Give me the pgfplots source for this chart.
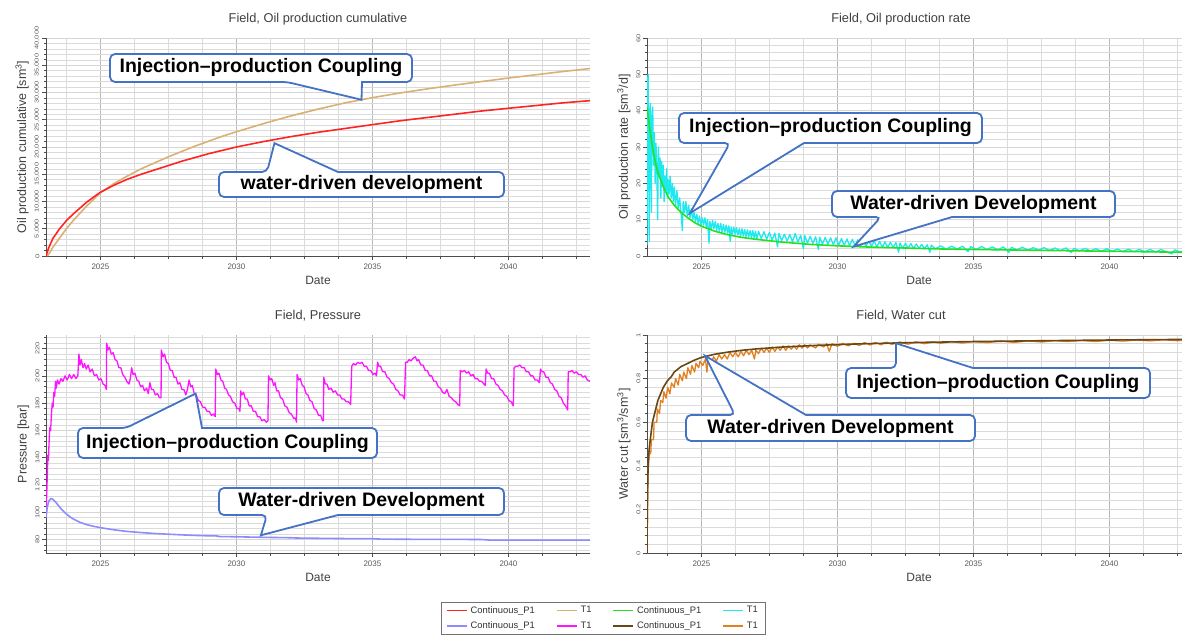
\documentclass[border=0pt]{standalone}
\usepackage{fontspec}
\setmainfont{Liberation Sans}
\usepackage{pgfplots}
\pgfplotsset{compat=1.18}

\definecolor{cRed}{RGB}{255,36,36}
\definecolor{cTan}{RGB}{218,176,116}
\definecolor{cGreen}{RGB}{34,226,34}
\definecolor{cCyan}{RGB}{30,232,240}
\definecolor{cLav}{RGB}{140,140,255}
\definecolor{cMag}{RGB}{255,20,255}
\definecolor{cBrown}{RGB}{104,72,22}
\definecolor{cOrange}{RGB}{226,128,32}
\definecolor{cBlue}{RGB}{68,114,196}

\pgfplotsset{
  fieldaxis/.style={
    scale only axis, width=544pt, height=218pt,
    xmin=2023, xmax=2043,
    axis x line*=bottom, axis y line*=left,
    axis line style={black!70, line width=0.8pt},
    xtick={2025,2030,2035,2040},
    minor xtick={2023.75,2026.25,2027.5,2028.75,2031.25,2032.5,2033.75,2036.25,2037.5,2038.75,2041.25,2042.5},
    grid=both,
    major x grid style={draw=black!28, line width=0.7pt},
    minor x grid style={draw=black!14, line width=0.6pt},
    major y grid style={draw=black!16, line width=0.6pt},
    minor y grid style={draw=black!14, line width=0.5pt},
    tick align=outside,
    major tick length=4pt, minor tick length=2.5pt,
    every tick/.style={black!70, line width=0.6pt},
    /pgf/number format/assume math mode=true,
    x tick label style={font=\fontsize{8}{9}\selectfont, text=black!65, /pgf/number format/1000 sep={}},
    y tick label style={font=\fontsize{7.5}{8}\selectfont, text=black!65, rotate=90, yscale=0.75, anchor=south},
    xlabel={Date},
    xlabel style={font=\fontsize{12}{14}\selectfont, text=black!75},
    ylabel style={font=\fontsize{12.5}{14}\selectfont, text=black!75},
    title style={font=\fontsize{12.8}{15}\selectfont, text=black!75, at={(0.5,1)}, anchor=center, yshift=13pt},
    every axis plot/.append style={line width=1.6pt, no markers, line join=round},
  },
}
\tikzset{
  co/.style={draw=cBlue, line width=1.8pt, fill=white, line join=miter},
  cotext/.style={font=\bfseries\fontsize{19.5}{22}\selectfont, text=black},
}

\begin{document}
\begin{tikzpicture}
\path[use as bounding box] (0pt,0pt) rectangle (1182pt,-636pt);

% ---------------- cumulative oil ----------------
\begin{axis}[fieldaxis, at={(46pt,-256pt)}, anchor=south west,
  title={Field, Oil production cumulative},
  ylabel={Oil production cumulative [sm\textsuperscript{3}]},
  ymin=0, ymax=40000, ytick={0,5000,...,40000}, minor y tick num=4,
  scaled y ticks=false,
  y tick label style={/pgf/number format/1000 sep={,}}]
\addplot[cTan] coordinates {
(2023.05,0) (2023.15,700) (2023.25,1600) (2023.5,3300) (2023.75,5000) (2024.0,6500)
(2024.5,9200) (2025.0,11600) (2025.5,13300) (2026.0,14700) (2026.5,16000) (2027.0,17100)
(2027.5,18200) (2028.0,19200) (2028.5,20200) (2029.0,21100) (2029.5,22000) (2030.0,22800)
(2031.0,24300) (2032.0,25700) (2033.0,26950) (2034.0,28100) (2035.0,29050) (2036.0,29900)
(2037.0,30650) (2038.0,31350) (2039.0,32000) (2040.0,32650) (2041.0,33250) (2042.0,33850) (2043.0,34400)};
\addplot[cRed] coordinates {
(2023.0,0) (2023.1,1500) (2023.25,3200) (2023.5,5000) (2023.75,6500) (2024.0,7700)
(2024.5,9900) (2025.0,11700) (2025.5,13000) (2026.0,14100) (2026.5,15000) (2027.0,15800)
(2027.5,16600) (2028.0,17400) (2028.5,18100) (2029.0,18800) (2029.5,19400) (2030.0,20000)
(2031.0,21000) (2032.0,21900) (2033.0,22700) (2034.0,23400) (2035.0,24100) (2036.0,24800)
(2037.0,25400) (2038.0,26000) (2039.0,26600) (2040.0,27100) (2041.0,27600) (2042.0,28100) (2043.0,28500)};
\coordinate (tA) at (axis cs:2034.6,28670);
\coordinate (tB) at (axis cs:2031.4,20700);
\end{axis}

% ---------------- oil rate ----------------
\begin{axis}[fieldaxis, at={(647pt,-256pt)}, anchor=south west,
  title={Field, Oil production rate}, title style={xshift=-18pt},
  ylabel={Oil production rate [sm\textsuperscript{3}/d]},
  ymin=0, ymax=60, ytick={0,10,...,60}, minor y tick num=4]
\addplot[cCyan, line width=1.3pt] coordinates {
(2023.00,3) (2023.02,48) (2023.04,50) (2023.06,30) (2023.08,4) (2023.10,40) (2023.12,42)
(2023.14,28) (2023.16,12) (2023.18,38) (2023.21,41) (2023.24,25) (2023.27,34) (2023.30,20)
(2023.33,31) (2023.36,24) (2023.39,10) (2023.42,30) (2023.45,22) (2023.48,27) (2023.51,16)
(2023.54,26) (2023.57,20) (2023.60,25) (2023.63,15) (2023.66,22) (2023.69,18) (2023.72,24)
(2023.75,16) (2023.78,21) (2023.81,17) (2023.85,22) (2023.89,16) (2023.93,20) (2023.97,15)
(2024.00,19) (2024.05,14) (2024.10,18) (2024.15,13) (2024.20,16) (2024.25,12) (2024.30,7)
(2024.33,15) (2024.38,12) (2024.43,15) (2024.48,11) (2024.53,14) (2024.58,10.5) (2024.63,13)
(2024.68,10) (2024.73,12) (2024.78,9.5) (2024.83,11.5) (2024.88,9) (2024.93,11) (2024.98,8.5)
(2025.03,10.5) (2025.08,8.5) (2025.13,10.5) (2025.18,8) (2025.23,10) (2025.28,3.5) (2025.31,9.5)
(2025.36,7.5) (2025.41,9.8) (2025.46,7.5) (2025.51,9.5) (2025.56,7) (2025.61,9) (2025.66,6.8)
(2025.71,9) (2025.76,6.5) (2025.81,8.7) (2025.86,6.5) (2025.91,8.5) (2025.96,6.3) (2026.01,8.3)
(2026.06,4) (2026.09,8) (2026.14,6) (2026.19,8) (2026.24,6) (2026.29,7.8) (2026.34,5.8)
(2026.39,7.5) (2026.44,5.5) (2026.49,7.5) (2026.54,5.5) (2026.59,7.3) (2026.64,5.3) (2026.69,7.2)
(2026.74,5.2) (2026.79,7) (2026.84,5) (2026.89,7) (2026.94,5) (2026.99,6.8) (2027.04,4.5)
(2027.1,6.8) (2027.2,4.8) (2027.3,6.7) (2027.4,4.6) (2027.5,6.5) (2027.6,4.4) (2027.7,6.3)
(2027.8,2.5) (2027.85,6.2) (2027.95,4.2) (2028.05,6.0) (2028.15,4.1) (2028.25,5.9) (2028.35,3.9)
(2028.45,6.2) (2028.55,3.8) (2028.65,5.7) (2028.75,2.0) (2028.8,5.6) (2028.9,3.6) (2029.0,5.4)
(2029.1,3.5) (2029.2,5.3) (2029.3,1.8) (2029.35,5.2) (2029.45,3.3) (2029.55,5.1) (2029.65,3.2)
(2029.75,5.0) (2029.85,3.1) (2029.95,5.0) (2030.05,3.0) (2030.15,4.8) (2030.25,2.9) (2030.35,4.7)
(2030.45,2.8) (2030.55,4.6) (2030.65,2.8) (2030.75,4.5) (2030.85,2.7) (2030.95,4.4) (2031.05,2.6)
(2031.15,4.3) (2031.25,2.6) (2031.35,4.1) (2031.45,2.5) (2031.55,4.0) (2031.65,2.4) (2031.75,3.9)
(2031.85,2.4) (2031.95,3.8) (2032.05,2.3) (2032.15,3.7) (2032.25,1.0) (2032.3,3.6) (2032.4,2.2)
(2032.5,3.5) (2032.6,2.2) (2032.7,3.4) (2032.8,2.1) (2032.9,3.3) (2033.0,2.1) (2033.1,3.2)
(2033.2,2.0) (2033.3,3.1) (2033.4,1.0) (2033.45,3.0) (2033.6,2.0) (2033.8,2.8) (2034.0,1.9)
(2034.2,2.7) (2034.4,1.9) (2034.6,2.7) (2034.8,1.2) (2034.9,2.6) (2035.1,1.8) (2035.3,2.6)
(2035.5,1.8) (2035.7,2.5) (2035.9,1.7) (2036.1,2.5) (2036.3,1.0) (2036.4,2.4) (2036.6,1.7)
(2036.8,2.4) (2037.0,1.6) (2037.2,2.3) (2037.4,1.6) (2037.6,2.3) (2037.8,1.5) (2038.0,2.2)
(2038.2,1.5) (2038.4,2.2) (2038.6,1.0) (2038.7,2.1) (2038.9,1.4) (2039.1,2.1) (2039.3,1.4)
(2039.5,2.0) (2039.7,1.3) (2039.9,2.0) (2040.1,1.3) (2040.3,1.9) (2040.5,1.2) (2040.7,1.9)
(2040.9,1.2) (2041.1,1.8) (2041.3,1.2) (2041.5,1.8) (2041.7,1.1) (2041.9,1.8) (2042.1,1.1)
(2042.3,0.6) (2042.4,1.7) (2042.6,1.1) (2042.8,1.7) (2043.0,1.0)};
\addplot[cGreen] coordinates {
(2023.0,41) (2023.1,35) (2023.2,30) (2023.3,26) (2023.4,23) (2023.5,21) (2023.6,19)
(2023.7,17.5) (2023.8,16) (2023.9,15) (2024.0,14) (2024.25,12) (2024.5,10.5) (2024.75,9.2)
(2025.0,8.2) (2025.5,6.8) (2026.0,5.8) (2026.5,5.1) (2027.0,4.6) (2027.5,4.2) (2028.0,3.8)
(2028.5,3.5) (2029.0,3.2) (2029.5,3.0) (2030.0,2.8) (2031.0,2.5) (2032.0,2.3) (2033.0,2.1)
(2034.0,1.9) (2035.0,1.8) (2036.0,1.7) (2037.0,1.6) (2038.0,1.5) (2039.0,1.4) (2040.0,1.3)
(2041.0,1.2) (2042.0,1.1) (2043.0,1.0)};
\coordinate (tC) at (axis cs:2024.58,11.8);
\coordinate (tD) at (axis cs:2030.6,2.6);
\end{axis}

% ---------------- pressure ----------------
\begin{axis}[fieldaxis, at={(46pt,-553pt)}, anchor=south west,
  title={Field, Pressure},
  ylabel={Pressure [bar]},
  ymin=70, ymax=230, ytick={80,100,...,220},
  minor ytick={72,76,...,228}]
\addplot[cMag, line width=1.3pt] coordinates {
(2023.00,98) (2023.03,115) (2023.05,128) (2023.07,142) (2023.09,138) (2023.11,150) (2023.14,162)
(2023.17,160) (2023.20,172) (2023.23,180) (2023.26,177) (2023.29,188) (2023.32,185) (2023.35,196)
(2023.38,191) (2023.42,197) (2023.48,194) (2023.55,198) (2023.62,196) (2023.70,200) (2023.78,197)
(2023.86,201) (2023.94,198) (2024.02,201) (2024.10,198) (2024.17,200)
(2024.21,216) (2024.25,208) (2024.30,212) (2024.36,206) (2024.42,209) (2024.48,205) (2024.55,208)
(2024.62,203) (2024.70,205) (2024.78,200) (2024.86,201) (2024.94,197) (2025.02,198) (2025.10,194)
(2025.17,193) (2025.22,190)
(2025.23,224) (2025.28,219) (2025.33,221) (2025.40,216) (2025.47,217) (2025.54,212) (2025.61,211)
(2025.68,206) (2025.75,206) (2025.82,201) (2025.90,199) (2025.97,196) (2026.05,194) (2026.10,198)
(2026.15,206) (2026.20,201) (2026.27,202) (2026.34,197) (2026.41,196) (2026.48,192) (2026.55,193)
(2026.62,189) (2026.70,191) (2026.76,187) (2026.82,195) (2026.88,190) (2026.95,190) (2027.02,186)
(2027.10,187) (2027.17,184) (2027.23,184)
(2027.24,219) (2027.30,214) (2027.36,216) (2027.43,210) (2027.50,209) (2027.57,204) (2027.64,204)
(2027.71,199) (2027.78,199) (2027.85,194) (2027.92,195) (2028.00,190) (2028.07,190) (2028.14,186)
(2028.20,190) (2028.26,197) (2028.32,192) (2028.38,193) (2028.45,187) (2028.52,186) (2028.60,182)
(2028.68,181) (2028.76,177) (2028.84,177) (2028.92,174) (2029.00,174) (2029.08,171) (2029.16,172)
(2029.22,170)
(2029.24,205) (2029.30,201) (2029.36,202) (2029.43,197) (2029.50,196) (2029.57,191) (2029.64,190)
(2029.71,186) (2029.78,185) (2029.86,181) (2029.94,180) (2030.02,176) (2030.09,176) (2030.13,174)
(2030.16,189) (2030.20,186) (2030.26,188) (2030.33,183) (2030.40,183) (2030.47,178) (2030.55,178)
(2030.62,174) (2030.70,174) (2030.78,170) (2030.86,170) (2030.94,167) (2031.02,168) (2031.10,166)
(2031.16,167)
(2031.18,200) (2031.24,197) (2031.30,198) (2031.37,193) (2031.42,195) (2031.48,189) (2031.55,189)
(2031.62,184) (2031.70,183) (2031.78,178) (2031.86,177) (2031.94,173) (2032.02,172) (2032.10,169)
(2032.17,169) (2032.21,166)
(2032.23,201) (2032.29,197) (2032.35,198) (2032.42,193) (2032.49,192) (2032.56,187) (2032.63,186)
(2032.70,182) (2032.78,181) (2032.86,176) (2032.94,175) (2033.02,171) (2033.10,171) (2033.17,167)
(2033.20,167)
(2033.21,199) (2033.27,194) (2033.33,194) (2033.40,190) (2033.48,191) (2033.56,188) (2033.64,189)
(2033.72,186) (2033.80,186) (2033.88,183) (2033.96,183) (2034.04,181) (2034.12,181) (2034.20,179)
(2034.24,207) (2034.30,209) (2034.38,208) (2034.46,210) (2034.54,209) (2034.62,210) (2034.70,207)
(2034.78,207) (2034.86,204) (2034.94,204) (2035.02,201) (2035.10,202) (2035.15,200) (2035.19,210)
(2035.24,207) (2035.30,207) (2035.38,203) (2035.46,203) (2035.54,199) (2035.62,198) (2035.70,195)
(2035.78,194) (2035.86,190) (2035.94,189) (2036.02,186) (2036.10,186) (2036.18,183)
(2036.22,210) (2036.28,210) (2036.35,212) (2036.42,211) (2036.50,213) (2036.58,214) (2036.64,211)
(2036.70,212) (2036.78,208) (2036.86,208) (2036.94,204) (2037.02,204) (2037.10,200) (2037.18,200)
(2037.26,196) (2037.34,196) (2037.42,192) (2037.50,191) (2037.58,188) (2037.66,187) (2037.74,190)
(2037.82,185) (2037.90,184) (2037.98,182) (2038.06,181) (2038.14,179) (2038.21,178)
(2038.23,204) (2038.30,203) (2038.38,204) (2038.46,202) (2038.54,203) (2038.62,200) (2038.70,201)
(2038.78,198) (2038.86,198) (2038.94,196) (2039.02,196) (2039.10,194) (2039.15,193) (2039.18,205)
(2039.24,202) (2039.30,202) (2039.38,198) (2039.46,198) (2039.54,194) (2039.62,193) (2039.70,190)
(2039.78,189) (2039.86,186) (2039.94,185) (2040.02,182) (2040.10,181) (2040.18,178)
(2040.21,206) (2040.27,207) (2040.34,207) (2040.42,208) (2040.50,206) (2040.58,206) (2040.66,203)
(2040.74,203) (2040.82,200) (2040.90,200) (2040.98,197) (2041.06,197) (2041.14,195) (2041.18,205)
(2041.24,203) (2041.30,203) (2041.38,199) (2041.46,199) (2041.54,195) (2041.62,194) (2041.70,190)
(2041.78,189) (2041.86,185) (2041.94,184) (2042.02,180) (2042.10,178) (2042.18,175)
(2042.20,203) (2042.27,203) (2042.34,204) (2042.42,202) (2042.50,203) (2042.58,201) (2042.66,201)
(2042.74,199) (2042.82,200) (2042.90,197) (2043.00,196)};
\addplot[cLav] coordinates {
(2023.00,96) (2023.05,104) (2023.10,108) (2023.18,110) (2023.25,109.5) (2023.35,107.5) (2023.45,105)
(2023.55,102.5) (2023.70,99.5) (2023.85,97) (2024.0,95) (2024.25,92.5) (2024.5,90.8) (2024.75,89.6)
(2025.0,88.6) (2025.5,87) (2026.0,85.8) (2026.5,85) (2027.0,84.3) (2027.5,83.8) (2028.0,83.3)
(2028.5,82.9) (2029.0,82.6) (2029.3,82.5) (2029.35,82.1) (2030.0,81.9) (2031.0,81.5) (2032.0,81.2)
(2032.2,81.0) (2033.0,80.8) (2034.0,80.6) (2035.0,80.5) (2035.3,80.2) (2036.0,80.1) (2037.0,80.0)
(2038.0,80.0) (2039.0,79.9) (2039.3,79.5) (2040.0,79.4) (2041.0,79.4) (2042.0,79.4) (2043.0,79.4)};
\coordinate (tE) at (axis cs:2028.5,187);
\coordinate (tF) at (axis cs:2030.9,83);
\end{axis}

% ---------------- water cut ----------------
\begin{axis}[fieldaxis, at={(647pt,-553pt)}, anchor=south west,
  title={Field, Water cut}, title style={xshift=-18pt},
  ylabel={Water cut [sm\textsuperscript{3}/sm\textsuperscript{3}]},
  ymin=0, ymax=1, ytick={0,0.2,...,1}, minor y tick num=4,
  y tick label style={/pgf/number format/fixed}]
\addplot[cOrange, line width=1.3pt] coordinates {
(2023.00,0) (2023.02,0.2) (2023.04,0.38) (2023.08,0.45) (2023.14,0.46) (2023.16,0.52) (2023.24,0.52)
(2023.26,0.6) (2023.36,0.6) (2023.38,0.66) (2023.46,0.64) (2023.5,0.7) (2023.58,0.69) (2023.62,0.74)
(2023.7,0.71) (2023.76,0.76) (2023.84,0.73) (2023.9,0.78) (2024.0,0.76) (2024.05,0.8) (2024.15,0.77)
(2024.2,0.82) (2024.3,0.79) (2024.35,0.83) (2024.45,0.8) (2024.5,0.85) (2024.6,0.82) (2024.65,0.86)
(2024.75,0.83) (2024.8,0.87) (2024.9,0.85) (2024.95,0.88) (2025.05,0.86) (2025.15,0.89) (2025.2,0.83)
(2025.25,0.89) (2025.35,0.87) (2025.45,0.9) (2025.55,0.88) (2025.65,0.91) (2025.75,0.89) (2025.85,0.91)
(2025.95,0.89) (2026.05,0.92) (2026.15,0.9) (2026.25,0.92) (2026.35,0.9) (2026.45,0.925) (2026.55,0.905)
(2026.65,0.93) (2026.75,0.91) (2026.85,0.93) (2026.95,0.89) (2027.0,0.93) (2027.1,0.915) (2027.2,0.94)
(2027.3,0.92) (2027.4,0.94) (2027.5,0.92) (2027.6,0.945) (2027.7,0.925) (2027.8,0.945) (2027.9,0.93)
(2028.0,0.95) (2028.1,0.93) (2028.2,0.95) (2028.3,0.935) (2028.4,0.95) (2028.5,0.935) (2028.6,0.955)
(2028.7,0.94) (2028.8,0.955) (2028.9,0.94) (2029.0,0.955) (2029.2,0.94) (2029.3,0.958) (2029.5,0.945)
(2029.6,0.96) (2029.7,0.925) (2029.8,0.96) (2030.0,0.948) (2030.2,0.962) (2030.4,0.95) (2030.6,0.962)
(2030.8,0.952) (2031.0,0.965) (2031.2,0.954) (2031.4,0.966) (2031.6,0.955) (2031.8,0.967) (2032.0,0.957)
(2032.3,0.968) (2032.6,0.958) (2032.9,0.968) (2033.2,0.96) (2033.5,0.968) (2033.8,0.962) (2034.2,0.97)
(2034.6,0.963) (2035.0,0.97) (2035.5,0.965) (2036.0,0.972) (2036.5,0.966) (2037.0,0.973) (2037.5,0.968)
(2038.0,0.974) (2038.5,0.97) (2039.0,0.975) (2039.5,0.97) (2040.0,0.976) (2040.5,0.972) (2041.0,0.977)
(2041.5,0.973) (2042.0,0.978) (2042.5,0.974) (2043.0,0.978)};
\addplot[cBrown] coordinates {
(2023.00,0) (2023.01,0.2) (2023.03,0.35) (2023.06,0.45) (2023.1,0.5) (2023.15,0.55) (2023.2,0.6)
(2023.3,0.65) (2023.4,0.7) (2023.5,0.73) (2023.6,0.76) (2023.75,0.79) (2023.9,0.81) (2024.0,0.83)
(2024.25,0.855) (2024.5,0.87) (2024.75,0.885) (2025.0,0.897) (2025.5,0.912) (2026.0,0.922)
(2026.5,0.93) (2027.0,0.936) (2028.0,0.945) (2029.0,0.951) (2030.0,0.956) (2031.0,0.96)
(2032.0,0.963) (2033.0,0.966) (2035.0,0.97) (2037.0,0.973) (2040.0,0.977) (2043.0,0.98)};
\coordinate (tG) at (axis cs:2032.15,0.962);
\coordinate (tH) at (axis cs:2025.13,0.905);
\end{axis}

% ---------------- legend ----------------
% matrix columns are numbered from 1: odd columns hold the line samples, even ones the names
\begin{axis}[hide axis, scale only axis, width=10pt, height=10pt,
  xmin=0, xmax=1, ymin=0, ymax=1,
  at={(603pt,-602pt)}, anchor=north,
  legend columns=4, legend cell align=left,
  legend style={at={(0.5,1)}, anchor=north, draw=black!55, line width=0.6pt,
    font=\fontsize{9.4}{11}\selectfont, text=black!80,
    inner xsep=5pt, inner ysep=2pt, row sep=3pt,
    /tikz/every odd column/.append style={column sep=1pt},
    /tikz/every even column/.append style={column sep=19pt}},
  legend image code/.code={\draw[#1, line width=1.6pt] (0pt,0pt) -- (20pt,0pt);}]
\addlegendimage{cRed}\addlegendentry{Continuous\_P1}
\addlegendimage{cTan}\addlegendentry{T1}
\addlegendimage{cGreen}\addlegendentry{Continuous\_P1}
\addlegendimage{cCyan}\addlegendentry{T1}
\addlegendimage{cLav}\addlegendentry{Continuous\_P1}
\addlegendimage{cMag}\addlegendentry{T1}
\addlegendimage{cBrown}\addlegendentry{Continuous\_P1}
\addlegendimage{cOrange}\addlegendentry{T1}
\end{axis}

% ---------------- callouts ----------------
\begin{scope}[x=1pt, y=-1pt]
% cumulative: coupling (wedge below the box)
\draw[co] (tA) -- (362,82) [rounded corners=5pt] -- (412,82) -- (412,54) -- (110,54) -- (110,82) -- (287,82) [sharp corners] -- cycle;
\node[cotext] at (261,68) {Injection--production Coupling};
% cumulative: water-driven (wedge above the box)
\draw[co] (tB) -- (338,172) [rounded corners=5pt] -- (504,172) -- (504,197) -- (219,197) -- (219,172) -- (267,172) [sharp corners] -- cycle;
\node[cotext] at (361.5,184.5) {water-driven development};
% rate: coupling
\draw[co] (tC) -- (804,143) [rounded corners=5pt] -- (982,143) -- (982,113) -- (679,113) -- (679,143) -- (730,143) [sharp corners] -- cycle;
\node[cotext] at (830.5,128) {Injection--production Coupling};
% rate: water-driven
\draw[co] (tD) -- (952,217) [rounded corners=5pt] -- (1115,217) -- (1115,191) -- (832,191) -- (832,217) -- (881,217) [sharp corners] -- cycle;
\node[cotext] at (973.5,204) {Water-driven Development};
% pressure: coupling
\draw[co] (tE) -- (202,428) [rounded corners=5pt] -- (377,428) -- (377,458) -- (78,458) -- (78,428) -- (126,428) [sharp corners] -- cycle;
\node[cotext] at (227.5,443) {Injection--production Coupling};
% pressure: water-driven
\draw[co] (tF) -- (338,515) [rounded corners=5pt] -- (504,515) -- (504,488) -- (219,488) -- (219,515) -- (267,515) [sharp corners] -- cycle;
\node[cotext] at (361.5,501.5) {Water-driven Development};
% water cut: coupling
\draw[co] (tG) -- (973,368) [rounded corners=5pt] -- (1150,368) -- (1150,398) -- (846,398) -- (846,368) -- (896,368) [sharp corners] -- cycle;
\node[cotext] at (998,383) {Injection--production Coupling};
% water cut: water-driven
\draw[co] (tH) -- (806,415) [rounded corners=5pt] -- (975,415) -- (975,441) -- (686,441) -- (686,415) -- (735,415) [sharp corners] -- cycle;
\node[cotext] at (830.5,428) {Water-driven Development};
\end{scope}
\end{tikzpicture}
\end{document}
